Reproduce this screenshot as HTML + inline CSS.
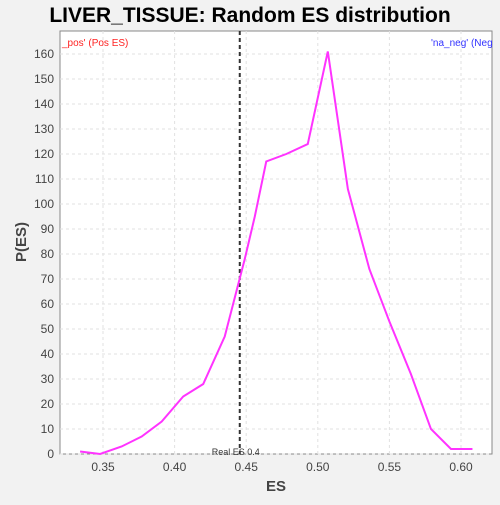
<!DOCTYPE html>
<html><head><meta charset="utf-8"><style>
body{margin:0;background:#f2f2f2;width:500px;height:500px;overflow:hidden;font-family:"Liberation Sans","DejaVu Sans",sans-serif}
</style></head><body>
<svg width="500" height="500" id="c">
<text x="250" y="22" text-anchor="middle" font-size="21" font-weight="bold">LIVER_TISSUE: Random ES distribution</text>
<rect x="60" y="31" width="432" height="423" fill="#fff" stroke="#888"/>
<g id="grid"></g><g id="ticks"></g>
<text x="62" y="46" font-size="10" fill="#f22">_pos' (Pos ES)</text>
<text x="431" y="46" font-size="10" fill="#33f">'na_neg' (Neg</text>
<text x="276" y="491" text-anchor="middle" font-size="15" font-weight="bold" fill="#444">ES</text>
<text transform="translate(26,242) rotate(-90)" text-anchor="middle" font-size="15" font-weight="bold" fill="#444">P(ES)</text>
<g id="marks"></g>
</svg>
<script>
const esValues=[0.334,0.348,0.363,0.377,0.391,0.406,0.420,0.435,0.449,0.456,0.464,0.478,0.493,0.507,0.521,0.536,0.550,0.565,0.579,0.593,0.608];
const pValues=[1,0,3,7,13,23,28,47,78,95,117,120,124,161,106,74,53,32,10,2,2];
const xTicks=[0.35,0.40,0.45,0.50,0.55,0.60];
const yTicks=[0,10,20,30,40,50,60,70,80,90,100,110,120,130,140,150,160];
const realES=0.4455;
const X=v=>103+(v-0.35)/0.05*71.6, Y=v=>454-v*2.5;
const NS='http://www.w3.org/2000/svg';
function mk(t,a,p){const e=document.createElementNS(NS,t);for(const k in a)e.setAttribute(k,a[k]);p.appendChild(e);return e;}
const g=document.getElementById('grid'),tk=document.getElementById('ticks'),m=document.getElementById('marks');
xTicks.forEach(v=>{
 const l=mk('line',{x1:X(v),x2:X(v),y1:31,y2:454,stroke:'#e2e2e2','stroke-dasharray':'3,3'},g);
 
 
 const t=mk('text',{x:X(v),y:471,'text-anchor':'middle','font-size':12,fill:'#444'},tk);t.textContent=v.toFixed(2);
 
 
});
yTicks.forEach(v=>{
 const l=mk('line',{x1:60,x2:492,y1:Y(v),y2:Y(v),stroke:'#e2e2e2','stroke-dasharray':'3,3'},g);
 
 
 const t=mk('text',{x:54,y:Y(v)+4,'text-anchor':'end','font-size':12,fill:'#444'},tk);t.textContent=v;
 
 
});
const rl=mk('line',{x1:X(realES),x2:X(realES),y1:31,y2:454,stroke:'#333','stroke-width':2,'stroke-dasharray':'4,3'},m);


const rt=mk('text',{x:X(realES)-28,y:455,'font-size':9,fill:'#333'},m);rt.textContent='Real ES 0.4';


const pl=mk('polyline',{points:esValues.map((v,i)=>X(v)+','+Y(pValues[i])).join(' '),fill:'none',stroke:'#f3f','stroke-width':2},m);


</script>
</body></html>
